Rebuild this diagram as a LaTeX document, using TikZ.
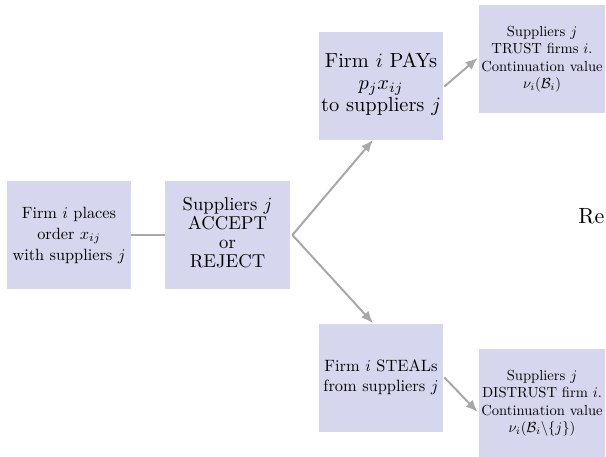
\documentclass[tikz,border=0pt]{standalone}
\usepackage{amsmath,amssymb,graphicx}
\usetikzlibrary{arrows.meta,calc}
\definecolor{boxfill}{RGB}{214,214,238}
\definecolor{connc}{RGB}{168,168,168}
% centred lines of text, scaled by #1, row spacing stretched by #2
\newcommand{\stagetext}[3]{\scalebox{#1}{\renewcommand{\arraystretch}{#2}%
  \begin{tabular}{@{}c@{}}#3\end{tabular}}}
\tikzset{
  stage/.style={rectangle, fill=boxfill, inner sep=0pt, align=center,
    minimum width=62pt, minimum height=54pt},
  conn/.style={draw=connc, line width=1pt},
  arr/.style={conn, -{Latex[length=6pt,width=5pt]}},
}
\begin{document}
\begin{tikzpicture}[x=0.5pt,y=-0.5pt]
  \useasboundingbox (0,0) rectangle (606,456);
  % decision stages
  \node[stage] (A) at (69,235)
    {\stagetext{0.815}{1.07}{Firm $i$ places\\ order $x_{ij}$\\ with suppliers $j$}};
  \node[stage, minimum width=62.5pt] (B) at (227.5,235)
    {\stagetext{0.93}{0.86}{Suppliers $j$\\ ACCEPT\\ or\\ REJECT}};
  \node[stage] (C) at (381,85.5)
    {\stagetext{1.02}{0.9}{Firm $i$ PAYs\\ $p_jx_{ij}$\\ to suppliers $j$}};
  \node[stage] (E) at (381,377.5)
    {\stagetext{0.82}{1.02}{Firm $i$ STEALs\\ from suppliers $j$}};
  % outcomes
  \node[stage, minimum width=63pt] (D) at (542,59)
    {\stagetext{0.73}{1.0}{Suppliers $j$\\ TRUST firms $i$.\\ Continuation value\\ $\nu_i(\mathcal{B}_i)$}};
  \node[stage, minimum width=63pt] (F) at (542,403)
    {\stagetext{0.73}{1.0}{Suppliers $j$\\ DISTRUST firm $i$.\\ Continuation value\\ $\nu_i(\mathcal{B}_i\backslash\{j\})$}};
  \node[anchor=base west, inner sep=0pt] (R) at (578,223) {\scalebox{1.1}{Re}};
  % connectors
  \draw[conn] (A.east) -- (B.west);
  \coordinate (fork) at ($(B.east)+(2,0)$);
  \draw[arr] (fork) -- ($(C.south)+(-8,0)$);
  \draw[arr] (fork) -- ($(E.north)+(-8,0)$);
  \draw[arr] ($(C.east)+(1,1)$) -- ($(D.west)+(-1,-1)$);
  \draw[arr] ($(E.east)+(1,0)$) -- ($(F.west)+(-1,9)$);
\end{tikzpicture}
\end{document}
